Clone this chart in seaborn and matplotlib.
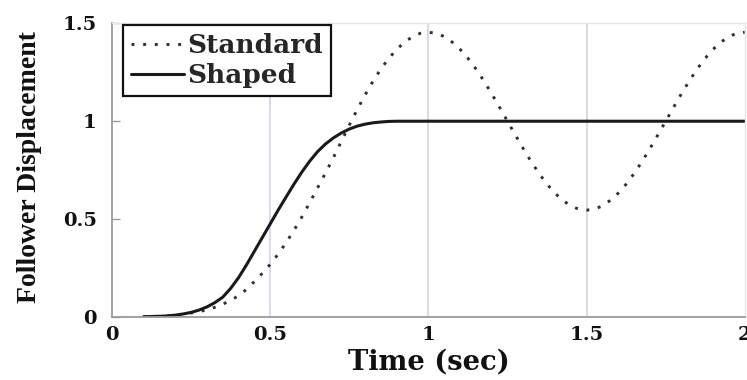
import matplotlib
matplotlib.use("Agg")
import matplotlib.pyplot as plt
import seaborn as sns
import pandas as pd

# ---- data ----
time = [0.100, 0.125, 0.150, 0.175, 0.200, 0.225, 0.250, 0.275, 0.300, 0.325,
        0.350, 0.375, 0.400, 0.425, 0.450, 0.475, 0.500, 0.525, 0.550, 0.575,
        0.600, 0.625, 0.650, 0.675, 0.700, 0.725, 0.750, 0.775, 0.800, 0.825,
        0.850, 0.875, 0.900, 0.925, 0.950, 0.975, 1.000, 1.025, 1.050, 1.075,
        1.100, 1.125, 1.150, 1.175, 1.200, 1.225, 1.250, 1.275, 1.300, 1.325,
        1.350, 1.375, 1.400, 1.425, 1.450, 1.475, 1.500, 1.525, 1.550, 1.575,
        1.600, 1.625, 1.650, 1.675, 1.700, 1.725, 1.750, 1.775, 1.800, 1.825,
        1.850, 1.875, 1.900, 1.925, 1.950, 1.975, 2.000]
standard = [0.000, 0.001, 0.002, 0.004, 0.007, 0.012, 0.019, 0.026, 0.035, 0.048,
            0.064, 0.084, 0.107, 0.140, 0.180, 0.222, 0.268, 0.320, 0.378, 0.442,
            0.510, 0.584, 0.660, 0.736, 0.815, 0.897, 0.980, 1.060, 1.135, 1.205,
            1.268, 1.322, 1.368, 1.405, 1.433, 1.450, 1.455, 1.450, 1.433, 1.405,
            1.368, 1.322, 1.268, 1.207, 1.141, 1.071, 1.000, 0.929, 0.859, 0.793,
            0.732, 0.678, 0.632, 0.595, 0.567, 0.550, 0.545, 0.550, 0.567, 0.595,
            0.632, 0.678, 0.732, 0.793, 0.859, 0.929, 1.000, 1.071, 1.141, 1.207,
            1.268, 1.322, 1.368, 1.405, 1.433, 1.450, 1.455]
shaped = [0.000, 0.001, 0.002, 0.004, 0.008, 0.014, 0.022, 0.034, 0.050, 0.072,
          0.100, 0.145, 0.200, 0.265, 0.335, 0.405, 0.475, 0.545, 0.612, 0.678,
          0.740, 0.796, 0.845, 0.884, 0.915, 0.940, 0.960, 0.975, 0.985, 0.992,
          0.996, 0.999, 1.000, 1.000, 1.000, 1.000, 1.000, 1.000, 1.000, 1.000,
          1.000, 1.000, 1.000, 1.000, 1.000, 1.000, 1.000, 1.000, 1.000, 1.000,
          1.000, 1.000, 1.000, 1.000, 1.000, 1.000, 1.000, 1.000, 1.000, 1.000,
          1.000, 1.000, 1.000, 1.000, 1.000, 1.000, 1.000, 1.000, 1.000, 1.000,
          1.000, 1.000, 1.000, 1.000, 1.000, 1.000, 1.000]
series_names = ["Standard", "Shaped"]
x_ticks = [0, 0.5, 1, 1.5, 2]
x_tick_labels = ["0", "0.5", "1", "1.5", "2"]
y_ticks = [0, 0.5, 1, 1.5]
y_tick_labels = ["0", "0.5", "1", "1.5"]

df = pd.DataFrame({"time": time, "Standard": standard, "Shaped": shaped})

sns.set_theme(style="white")
plt.rcParams["font.family"] = ["DejaVu Serif"]
plt.rcParams["font.weight"] = "bold"

fig = plt.figure(figsize=(7.47, 3.80), dpi=100)
ax = fig.add_axes([0.150, 0.1666, 0.847, 0.7716])

sns.lineplot(data=df, x="time", y="Standard", ax=ax, color="#303030",
             linewidth=2.1, linestyle=(0, (1, 3)), label=series_names[0])
sns.lineplot(data=df, x="time", y="Shaped", ax=ax, color="#1a1a1a",
             linewidth=2.2, linestyle="-", label=series_names[1])

ax.set_xlim(0, 2)
ax.set_ylim(0, 1.5)
ax.set_xticks(x_ticks)
ax.set_xticklabels(x_tick_labels)
ax.set_yticks(y_ticks)
ax.set_yticklabels(y_tick_labels)

# vertical grid only
ax.grid(False)
for xv in x_ticks[1:-1]:
    ax.axvline(xv, color="#d9dbe6", linewidth=1.5, zorder=0)

for side in ["left", "bottom"]:
    ax.spines[side].set_color("#9a9a9a")
    ax.spines[side].set_linewidth(1.3)
for side in ["top", "right"]:
    ax.spines[side].set_color("#e6e6e6")
    ax.spines[side].set_linewidth(1.0)

ax.tick_params(axis="y", direction="in", length=6, width=1, color="#9a9a9a",
               pad=11, labelsize=14, left=True)
ax.tick_params(axis="x", direction="in", length=0, pad=7, labelsize=14, bottom=True)
for lab in ax.get_xticklabels() + ax.get_yticklabels():
    lab.set_fontweight("bold")
    lab.set_color("#111111")

ax.set_xlabel("Time (sec)", fontsize=19.7, fontweight="bold", color="#111111", va="center")
ax.xaxis.set_label_coords(0.5, -0.155)
ax.set_ylabel("Follower Displacement", fontsize=20, fontweight="bold", color="#111111",
              family=["Liberation Serif", "DejaVu Serif"], va="center")
ax.yaxis.set_label_coords(-0.131, 0.51)

leg = ax.legend(loc="upper left", bbox_to_anchor=(0.017, 0.995), borderaxespad=0,
                frameon=True, fancybox=False, edgecolor="#111111",
                prop={"family": "DejaVu Serif", "weight": "bold", "size": 19},
                handlelength=2.0, handletextpad=0.15, borderpad=0.3,
                labelspacing=0.2)
leg.get_frame().set_linewidth(1.6)
leg.get_frame().set_facecolor("white")
leg.get_frame().set_alpha(1)

fig.savefig("out.png", dpi=100, facecolor="white")
